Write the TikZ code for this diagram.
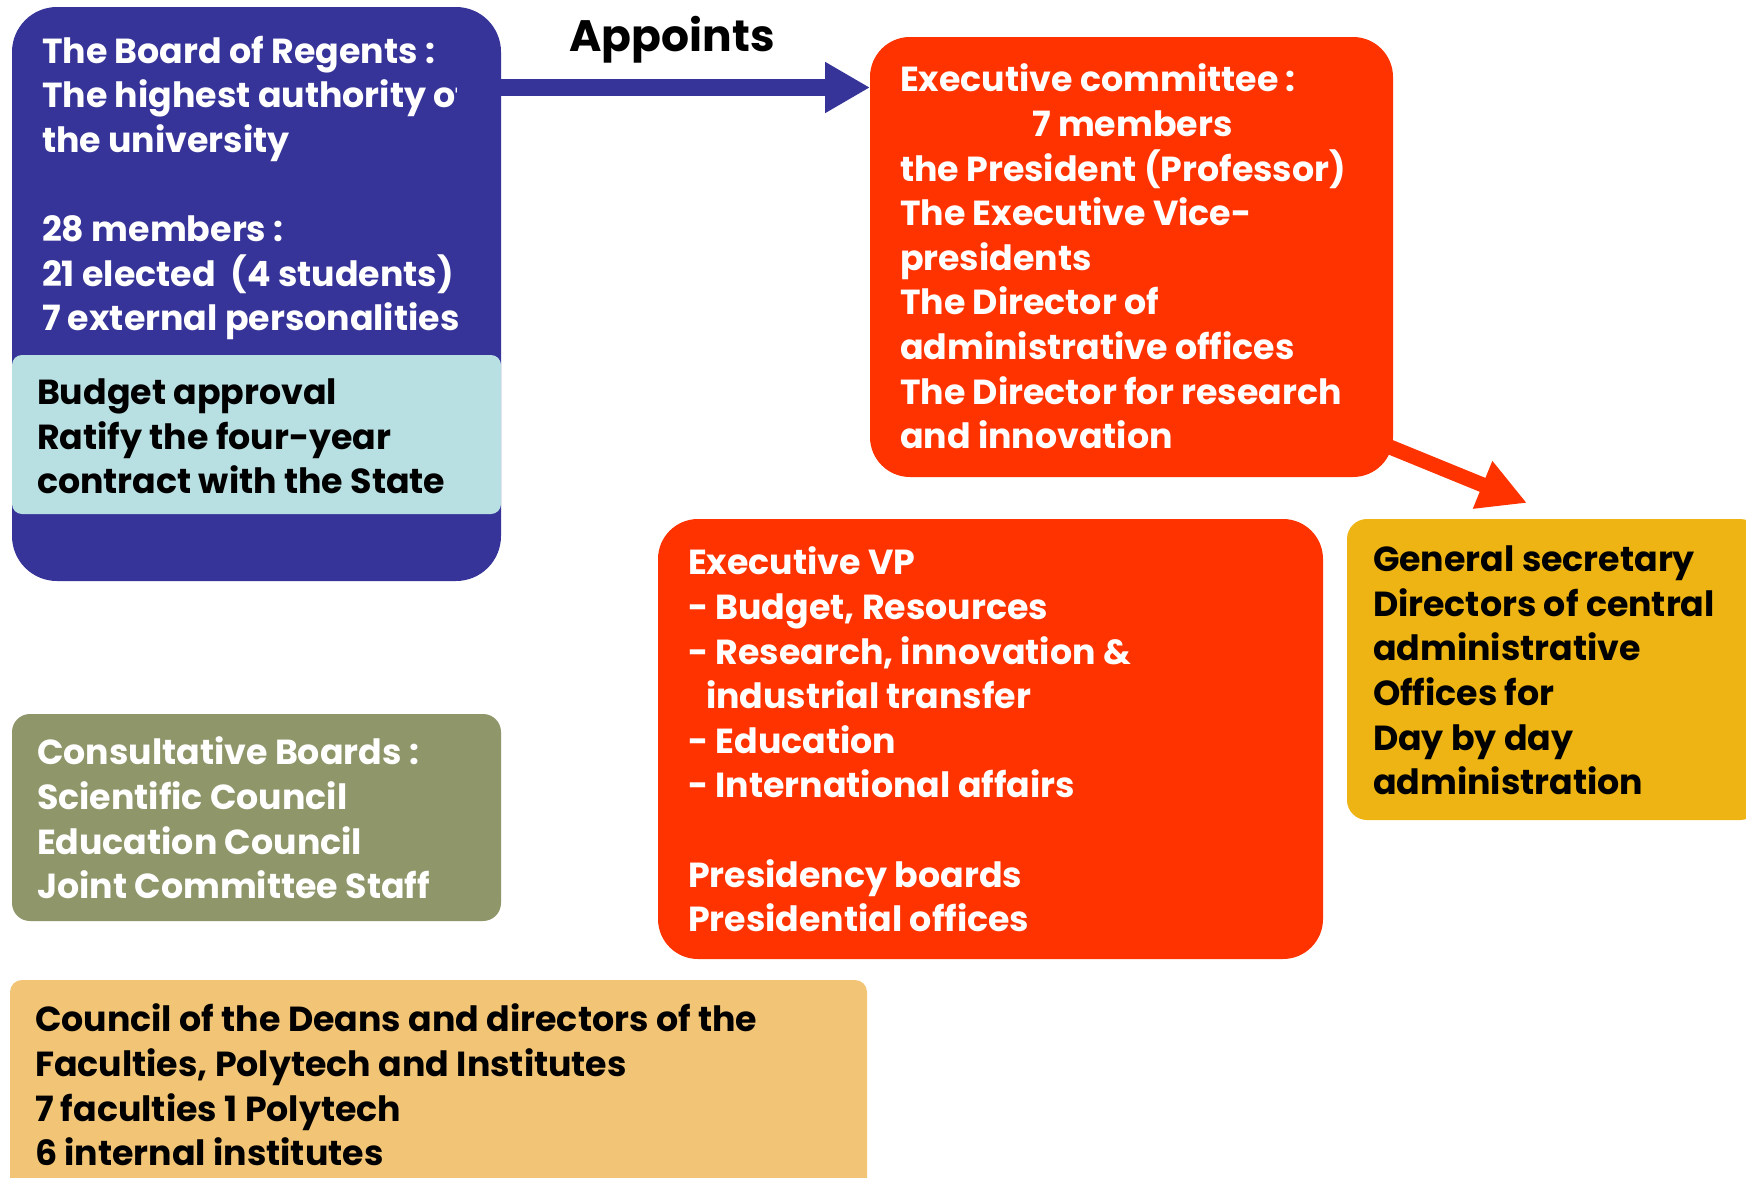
\documentclass[tikz,border=0pt]{standalone}
\usepackage{fontspec}
\setmainfont{Poppins}
\usetikzlibrary{arrows.meta}
\definecolor{regblue}{RGB}{54,52,152}
\definecolor{lightcyan}{RGB}{184,223,226}
\definecolor{exred}{RGB}{255,51,0}
\definecolor{admyellow}{RGB}{237,180,20}
\definecolor{consgreen}{RGB}{143,150,106}
\definecolor{deanpeach}{RGB}{242,196,117}
\begin{document}
\begin{tikzpicture}[x=0.5pt,y=-0.5pt,
  box/.style={rectangle, draw=none, inner sep=0pt, outer sep=0pt, anchor=north west},
  txt/.style={inner sep=0pt, outer sep=0pt, anchor=north west, align=left,
    font=\fontsize{17.4}{22.3}\selectfont\bfseries},
  wtxt/.style={txt, text=white},
  btxt/.style={txt, text=black}]
\useasboundingbox (0,0) rectangle (1746,1178);
\fill[white] (0,0) rectangle (1746,1178);
% boxes
\node[box, fill=regblue, rounded corners=22.5pt, minimum width=244.5pt, minimum height=287pt] (blue) at (12,7) {};
\node[box, fill=lightcyan, rounded corners=5pt, minimum width=244.5pt, minimum height=79.5pt] (cyan) at (12,355) {};
\node[box, fill=exred, rounded corners=20pt, minimum width=261.5pt, minimum height=220pt] (exec) at (870,37) {};
\node[box, fill=exred, rounded corners=20pt, minimum width=332.5pt, minimum height=220pt] (vp) at (658,519) {};
\node[box, fill=admyellow, rounded corners=10pt, minimum width=206.5pt, minimum height=150.5pt] (adm) at (1347,519) {};
\node[box, fill=consgreen, rounded corners=9pt, minimum width=244.5pt, minimum height=103.5pt] (cons) at (12,714) {};
\node[box, fill=deanpeach, rounded corners=6pt, minimum width=428.5pt, minimum height=107.5pt] (dean) at (10,980) {};
% texts
\begin{scope}
\clip (0,0) -- (520,0) -- (520,73) -- (456,73) -- (456,120) -- (520,120) -- (520,600) -- (0,600) -- cycle;
\node[wtxt] (bluetext) at (42,36) {The Board of Regents :\\The highest authority of\\the university\\[22.3pt]28 members :\\21 elected~~(4 students)\\7 external personalities};
\end{scope}
\node[btxt] (cyantext) at (37,379) {Budget approval\\Ratify the four-year\\contract with the State};
\node[wtxt] (exectext) at (900,64) {Executive committee :\\\hspace*{66pt}7 members\\the President (Professor)\\The Executive Vice-\\presidents\\The Director of\\administrative offices\\The Director for research\\and innovation};
\node[wtxt] (vptext) at (688,547) {Executive VP\\- Budget, Resources\\- Research, innovation \&\\\hspace*{9pt}industrial transfer\\- Education\\- International affairs\\[22.3pt]Presidency boards\\Presidential offices};
\node[btxt] (admtext) at (1373,546) {General secretary\\Directors of central\\administrative\\Offices for\\Day by day\\administration};
\node[wtxt] (constext) at (37,737) {Consultative Boards :\\Scientific Council\\Education Council\\Joint Committee Staff};
\node[btxt] (deantext) at (35,1004) {Council of the Deans and directors of the\\Faculties, Polytech and Institutes\\7 faculties 1 Polytech\\6 internal institutes};
\node[inner sep=0pt, font=\fontsize{22}{26}\selectfont\bfseries] (appoints) at (672,40) {Appoints};
% connectors
\draw[regblue, line width=8.5pt, -{Triangle[length=22.5pt, width=24pt]}]
  ([yshift=-40.25pt]blue.north east) -- ([yshift=-40.25pt]blue.north east -| exec.west);
\coordinate (redtip) at (1527,503);
\draw[exred, line width=7.5pt, -{Triangle[length=24pt, width=24pt]}]
  ([xshift=-4pt,yshift=16pt]exec.south east) -- (redtip);
\end{tikzpicture}
\end{document}
